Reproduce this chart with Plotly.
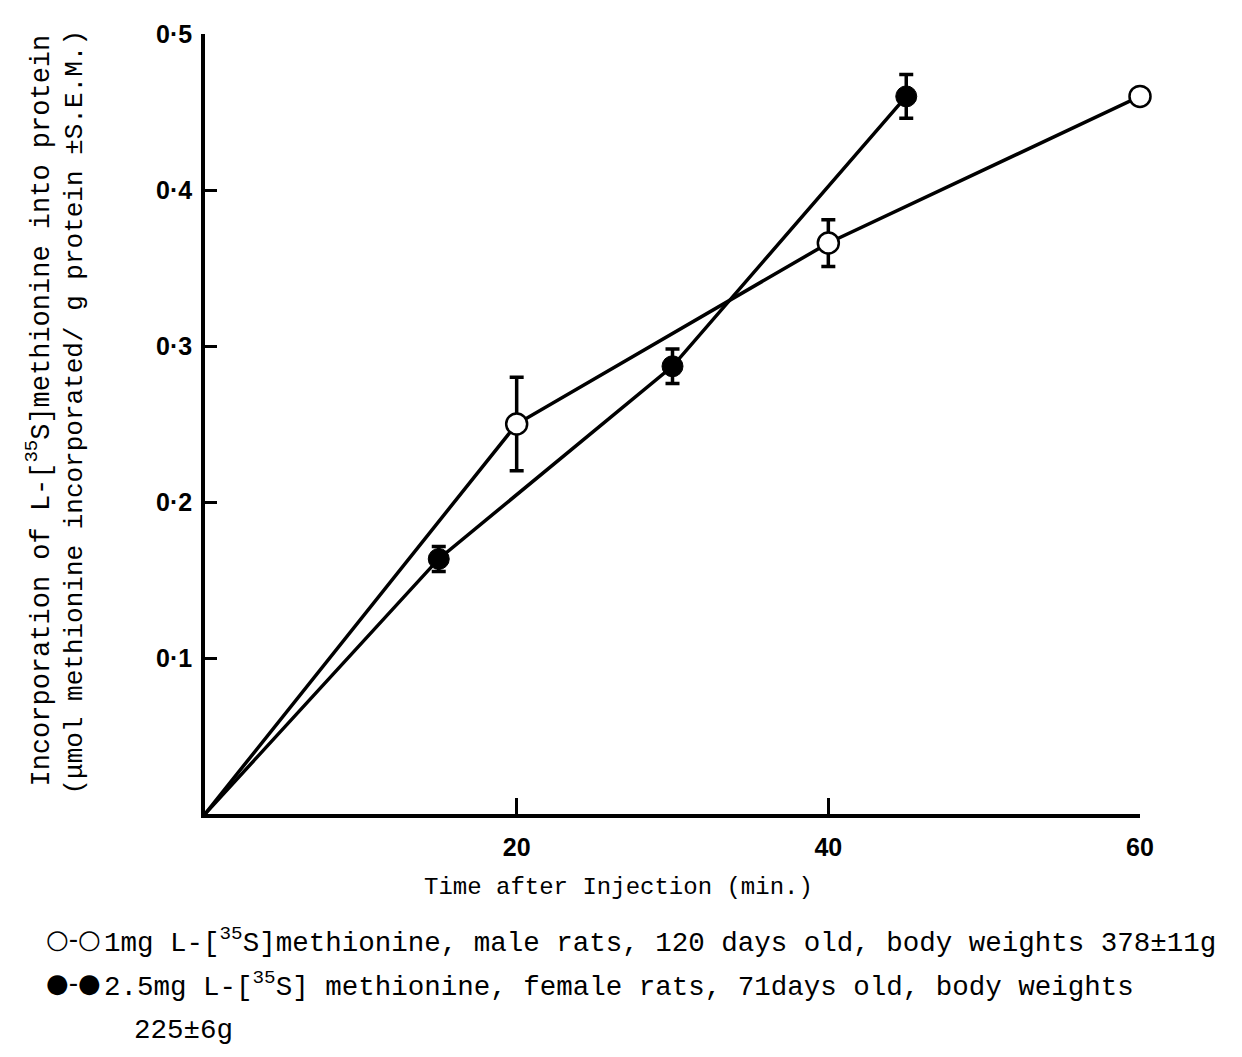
import plotly.graph_objects as go

# ---- data ----
time_open = [0, 20, 40, 60]
inc_open = [0, 0.25, 0.366, 0.46]
err_open = [0, 0.03, 0.015, 0]

time_filled = [0, 15, 30, 45]
inc_filled = [0, 0.1635, 0.287, 0.46]
err_filled = [0, 0.008, 0.011, 0.014]

x_ticks = [20, 40, 60]
x_ticklabels = ["20", "40", "60"]
y_ticks = [0.1, 0.2, 0.3, 0.4, 0.5]
y_ticklabels = ["0·1", "0·2", "0·3", "0·4", "0·5"]

OFFX, OFFY = 6, 9  # observed page offset
W, H = 1226, 1041
# screen-pixel positions of the plot frame
SX0, SX1, SY0, SY1 = 203, 1138, 32, 815
L, R = SX0 - OFFX, W - (SX1 - OFFX)
T, B = SY0 - OFFY, H - (SY1 - OFFY)
PW, PH = W - L - R, H - T - B


def px(x):
    return (x - OFFX - L) / PW


def py(y):
    return (H - B - (y - OFFY)) / PH


mono = "Liberation Mono"
fig = go.Figure()

fig.add_trace(go.Scatter(
    x=time_filled, y=inc_filled, mode="lines", line=dict(color="black", width=3.5),
    showlegend=False, hoverinfo="skip", cliponaxis=False))
fig.add_trace(go.Scatter(
    x=time_open, y=inc_open, mode="lines", line=dict(color="black", width=3.5),
    showlegend=False, hoverinfo="skip", cliponaxis=False))

fig.add_trace(go.Scatter(
    x=time_filled[1:], y=inc_filled[1:], mode="markers", cliponaxis=False,
    marker=dict(symbol="circle", size=21, color="black", line=dict(color="black", width=1)),
    error_y=dict(type="data", array=err_filled[1:], color="black", thickness=3.5, width=7),
    showlegend=False))
fig.add_trace(go.Scatter(
    x=time_open[1:], y=inc_open[1:], mode="markers", cliponaxis=False,
    marker=dict(symbol="circle", size=21, color="white", line=dict(color="black", width=2.5)),
    error_y=dict(type="data", array=err_open[1:], color="black", thickness=3.5, width=7),
    showlegend=False))

fig.update_xaxes(
    range=[0, 60], tickvals=x_ticks, ticktext=x_ticklabels, ticks="inside", ticklen=16,
    tickwidth=3, tickcolor="black", showline=True, linecolor="black", linewidth=3.5,
    showgrid=False, zeroline=False, ticklabelstandoff=8,
    tickfont=dict(family="Liberation Sans", size=25, color="black", weight="bold"))
fig.update_yaxes(
    range=[0, 0.5], tickvals=y_ticks, ticktext=y_ticklabels, ticks="inside", ticklen=12,
    tickwidth=3, tickcolor="black", showline=True, linecolor="black", linewidth=3.5,
    showgrid=False, zeroline=False, ticklabelstandoff=4,
    tickfont=dict(family="Liberation Sans", size=25, color="black", weight="bold"))

ann = []
ann.append(dict(text="Time after Injection (min.)", x=px(616), y=py(889),
                xanchor="center", yanchor="middle", xref="paper", yref="paper",
                showarrow=False, font=dict(family=mono, size=24, color="black")))
ann.append(dict(text="Incorporation of L-[<sup>35</sup>S]methionine into protein",
                x=px(37), y=py(410), xanchor="center", yanchor="middle",
                xref="paper", yref="paper", textangle=-90,
                showarrow=False, font=dict(family=mono, size=27, color="black")))
ann.append(dict(text="(μmol methionine incorporated/ g protein ±S.E.M.)",
                x=px(73), y=py(412), xanchor="center", yanchor="middle",
                xref="paper", yref="paper", textangle=-90,
                showarrow=False, font=dict(family=mono, size=26, color="black")))

ann.append(dict(text="○-○", x=px(42), y=py(940), xref="paper", yref="paper",
                xanchor="left", yanchor="middle",
                showarrow=False, font=dict(family="DejaVu Sans", size=26, color="black")))
ann.append(dict(text="●-●", x=px(42), y=py(985), xref="paper", yref="paper",
                xanchor="left", yanchor="middle",
                showarrow=False, font=dict(family="DejaVu Sans", size=26, color="black")))
ann.append(dict(text="1mg L-[<sup>35</sup>S]methionine, male rats, 120 days old, body weights 378±11g",
                x=px(100), y=py(942), xref="paper", yref="paper", xanchor="left", yanchor="middle",
                showarrow=False, font=dict(family=mono, size=27.5, color="black")))
ann.append(dict(text="2.5mg L-[<sup>35</sup>S] methionine, female rats, 71days old, body weights",
                x=px(100), y=py(987), xref="paper", yref="paper", xanchor="left", yanchor="middle",
                showarrow=False, font=dict(family=mono, size=27.5, color="black")))
ann.append(dict(text="225±6g", x=px(130), y=py(1032), xref="paper", yref="paper",
                xanchor="left", yanchor="middle",
                showarrow=False, font=dict(family=mono, size=27.5, color="black")))

fig.update_layout(
    width=W, height=H, margin=dict(l=L, r=R, t=T, b=B),
    paper_bgcolor="white", plot_bgcolor="white", annotations=ann, showlegend=False)

fig.write_html("out.html")
